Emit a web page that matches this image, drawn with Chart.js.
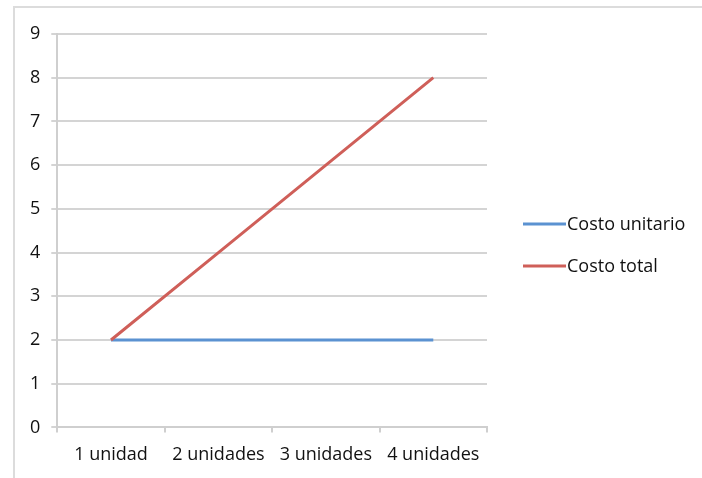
<!DOCTYPE html>
<html>
<head>
<meta charset="utf-8">
<script src="https://cdn.jsdelivr.net/npm/chart.js@4/dist/chart.umd.min.js"></script>
<style>
  body { margin: 0; background: #fff; overflow: hidden; }
  #marco { position: absolute; left: 13px; top: 6px; width: 720px; height: 500px; border-left: 2px solid #dcdcdc; border-top: 2px solid #dcdcdc; }
  #grafico { position: absolute; left: 0; top: 2px; }
</style>
</head>
<body>
<div id="marco"></div>
<canvas id="grafico" width="702" height="476"></canvas>
<script>
// datos del gráfico
var categorias = ['1 unidad', '2 unidades', '3 unidades', '4 unidades'];
var costoUnitario = [2, 2, 2, 2];
var costoTotal = [2, 4, 6, 8];
var nombres = ['Costo unitario', 'Costo total'];
var colores = ['#5B92D1', '#CF5F59'];

var fuente = "'Open Sans', 'Noto Sans', sans-serif";

// leyenda dibujada a mano a la derecha del área del gráfico
var leyenda = {
    id: 'leyenda',
    afterDraw: function(chart) {
        var c = chart.ctx;
        var x0 = chart.chartArea.right + 36;
        var ys = [222, 264];
        c.save();
        c.font = '18px ' + fuente;
        c.textBaseline = 'middle';
        c.fillStyle = '#111';
        chart.data.datasets.forEach(function(ds, i) {
            c.strokeStyle = ds.borderColor;
            c.lineWidth = 3;
            c.beginPath();
            c.moveTo(x0, ys[i]);
            c.lineTo(x0 + 43, ys[i]);
            c.stroke();
            c.fillText(ds.label, x0 + 44, ys[i] + 1);
        });
        c.restore();
    }
};

var ctx = document.getElementById('grafico').getContext('2d');
var grafico = new Chart(ctx, {
    type: 'line',
    data: {
        labels: categorias,
        datasets: [{
            label: nombres[0],
            data: costoUnitario,
            borderColor: colores[0],
            borderWidth: 3,
            pointRadius: 0,
            order: 2
        }, {
            label: nombres[1],
            data: costoTotal,
            borderColor: colores[1],
            borderWidth: 3,
            pointRadius: 0,
            order: 1
        }]
    },
    options: {
        responsive: false,
        animation: false,
        layout: { padding: { left: 19, top: 32, right: 215, bottom: 0 } },
        scales: {
            x: {
                offset: true,
                grid: { offset: true, drawOnChartArea: false, drawTicks: true, tickLength: 5, color: '#cfcfcf', lineWidth: 2 },
                border: { color: '#cfcfcf', width: 2 },
                ticks: { color: '#111', font: { family: fuente, size: 18 }, padding: 12, maxRotation: 0 }
            },
            y: {
                min: 0,
                max: 9,
                ticks: { stepSize: 1, color: '#111', font: { family: fuente, size: 18 }, padding: 11 },
                grid: { color: '#d4d4d4', lineWidth: 2, tickLength: 6 },
                border: { color: '#cfcfcf', width: 2 }
            }
        },
        plugins: {
            legend: { display: false },
            tooltip: { enabled: false }
        }
    },
    plugins: [leyenda]
});
</script>
</body>
</html>
